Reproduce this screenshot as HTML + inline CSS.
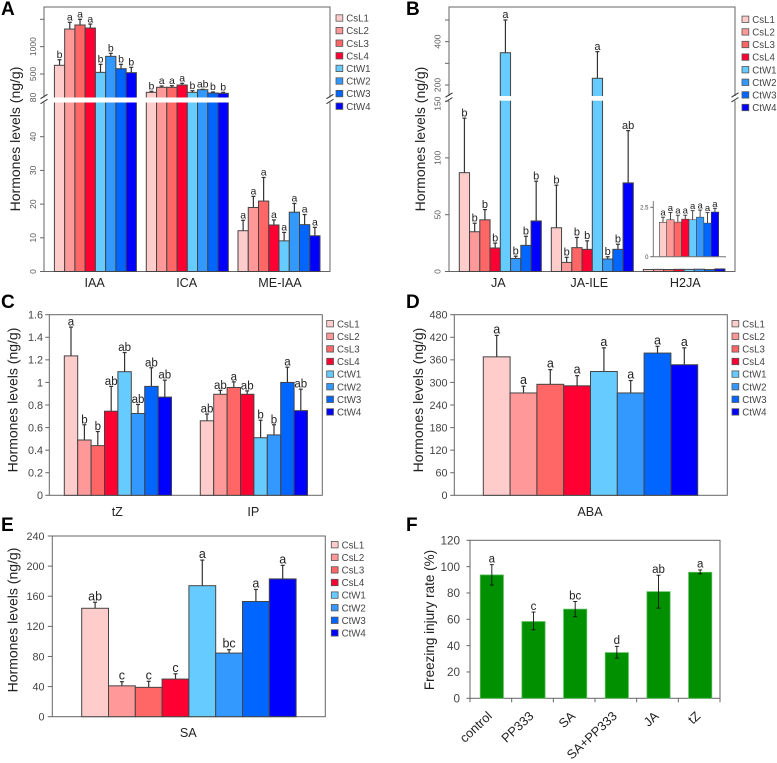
<!DOCTYPE html>
<html lang="en">
<head>
<meta charset="utf-8">
<title>Hormone levels chart</title>
<style>
html,body{margin:0;padding:0;background:#fff;width:777px;height:763px;overflow:hidden}
svg{display:block;font-family:"Liberation Sans",sans-serif;filter:blur(0.3px)}
</style>
</head>
<body>
<svg id="figure" width="777" height="763" viewBox="0 0 777 763" xmlns="http://www.w3.org/2000/svg"></svg>
<script>
const seriesNames = ['CsL1','CsL2','CsL3','CsL4','CtW1','CtW2','CtW3','CtW4'];
const seriesColors = ['#FFCCCC','#FF9999','#FF6666','#FF0033','#66CCFF','#3399FF','#0066FF','#0000FF'];

const iaaValues = [659,1322,1396,1340,530,823,597,524];
const iaaUpper = [761,1445,1500,1413,677,878,677,622];
const iaaLetters = ['b','a','a','a','b','b','b','b'];
const icaValues = [165,257,257,299,165,213,153,147];
const icaUpper = [184,281,286,330,195,220,171,165];
const icaLetters = ['b','a','a','a','b','ab','b','b'];
const meIaaValues = [12.1,19,20.9,13.8,9.1,17.6,13.9,10.6];
const meIaaUpper = [15.2,22.3,27.9,15.3,11.6,20.2,16.9,13.1];
const meIaaLetters = ['a','a','a','a','a','a','a','a'];

const jaValues = [87,35,45.5,20.7,349,11.5,23,44.5];
const jaUpper = [135,42.5,54.5,25,500,13.5,31,79.5];
const jaLetters = ['b','b','b','b','a','b','b','b'];
const jaIleValues = [38.5,8,21,19.5,231,11,19.5,78];
const jaIleUpper = [76,12.5,30,27,354,13,24,124];
const jaIleLetters = ['b','b','b','b','a','b','b','ab'];
const h2jaValues = [1.74,1.87,1.75,1.9,1.87,2.0,1.7,2.26];
const h2jaUpper = [2.0,2.24,2.1,2.1,2.33,2.36,2.23,2.45];
const h2jaLetters = ['a','a','a','a','a','a','a','a'];

const tzValues = [1.235,0.49,0.44,0.745,1.095,0.725,0.965,0.87];
const tzUpper = [1.49,0.625,0.565,0.965,1.265,0.805,1.13,1.02];
const tzLetters = ['a','b','b','ab','ab','ab','ab','ab'];
const ipValues = [0.66,0.895,0.955,0.895,0.51,0.535,1.0,0.75];
const ipUpper = [0.72,0.93,1.005,0.925,0.665,0.625,1.135,0.94];
const ipLetters = ['ab','ab','a','ab','b','b','a','ab'];

const abaValues = [368,272,295,291,329,272,378,347];
const abaUpper = [425,290,334,318,392,305,396,392];
const abaLetters = ['a','a','a','a','a','a','a','a'];

const saValues = [144,41,39,50,174,84.5,153,183];
const saUpper = [152,46.5,47,57,208,89,169,201];
const saLetters = ['ab','c','c','c','a','bc','a','a'];

const freezeCategories = ['control','PP333','SA','SA+PP333','JA','tZ'];
const freezeValues = [93.7,58.3,67.7,34.7,81,95.7];
const freezeHigh = [101.5,65.5,73.5,39.5,93.5,97.5];
const freezeLow = [86,52,62,30.5,68.5,94.5];
const freezeLetters = ['a','c','bc','d','ab','a'];

const aLowerTicks = [0,10,20,30,40];
const aUpperTicks = [500,1000,1500];
const aUpperTickLabels = ['500','1000',''];
const bLowerTicks = [0,50,100,150];
const bUpperTicks = [200,300,400,500];
const bUpperTickLabels = ['200','','400',''];
const insetTicks = [0,2.5];
const cTicks = [0,0.2,0.4,0.6,0.8,1,1.2,1.4,1.6];
const dTicks = [0,60,120,180,240,300,360,420,480];
const eTicks = [0,40,80,120,160,200,240];
const fTicks = [0,20,40,60,80,100,120];

const svg = document.getElementById('figure');
const NS = 'http://www.w3.org/2000/svg';
function mk(tag, attrs, parent){
  const n = document.createElementNS(NS, tag);
  for(const k in attrs){ n.setAttribute(k, attrs[k]); }
  (parent || svg).appendChild(n);
  return n;
}
function label(parent, x, y, str, size, fill, anchor, rot){
  const attrs = {x:x, y:y, 'font-size':size, fill:fill, 'text-anchor':anchor || 'middle'};
  if(rot){ attrs.transform = 'rotate(' + rot + ' ' + x + ' ' + y + ')'; }
  const t = mk('text', attrs, parent);
  t.textContent = str;
  return t;
}
function panelGroup(){
  const g = mk('g', {});
  
  
  return g;
}
function drawLetter(str, x, y){
  const t = label(svg, x, y, str, 19, '#000', 'start');
  t.setAttribute('font-weight', 'bold');
  
  
}
function drawYTitle(g, str, x, y, size){
  const t = label(g, x, y, str, size, '#222', 'middle', -90);
  
  
}
function drawXLabel(g, str, x, y){
  const t = label(g, x, y, str, 12.6, '#222');
  
  
}
function drawFrame(g, l, t, r, b){
  const f = mk('rect', {x:l, y:t, width:r-l, height:b-t, fill:'none', stroke:'#666', 'stroke-width':1}, g);
  
  
}
function drawLegend(g, xSwatch, yFirst){
  seriesNames.forEach(function(name, i){
    const cy = yFirst + i * 12.6;
    const sw = mk('rect', {x:xSwatch, y:cy-3.2, width:6.8, height:6.4, fill:seriesColors[i], stroke:'#555', 'stroke-width':0.8}, g);
    
    
    const tx = label(g, xSwatch + 10.3, cy + 3.6, name, 9.7, '#444', 'start');
    
    
  });
}
function drawTick(g, xRight, len, y, text, opts){
  const ln = mk('line', {x1:xRight-len, x2:xRight, y1:y, y2:y, stroke:'#666', 'stroke-width':1}, g);
  
  
  if(text === ''){ return; }
  let t;
  if(opts.rotated){
    t = label(g, opts.x, y + (opts.dy || 0), text, opts.size, '#555', 'middle', -90);
  } else {
    t = label(g, opts.x, y + opts.size * 0.36, text, opts.size, '#444', 'end');
  }
  
  
}
function drawBars(g, x0, w, base, yScale, values, upper, letters, o){
  const opt = o || {};
  values.forEach(function(v, i){
    const x = x0 + i * w;
    const yTop = yScale(v);
    const cx = x + w / 2;
    const yErr = yScale(upper[i]);
    const err = mk('line', {x1:cx, x2:cx, y1:yTop, y2:yErr, stroke:'#333', 'stroke-width':opt.errW || 1.2}, g);
    
    
    const cap = mk('line', {x1:cx-2, x2:cx+2, y1:yErr, y2:yErr, stroke:'#333', 'stroke-width':opt.errW || 1.2}, g);
    
    
    const bar = mk('rect', {x:x, y:yTop, width:w, height:base-yTop, fill:seriesColors[i], stroke:opt.stroke || '#444', 'stroke-width':opt.barStroke || 1}, g);
    
    
    const sig = label(g, cx, yErr - (opt.gap === undefined ? 1.8 : opt.gap), letters[i], opt.size || 11, '#222');
    
    
  });
}
function drawBreak(g, left, right, top, bottom, xs, markShift){
  const band = mk('rect', {x:left, y:top, width:right-left, height:bottom-top, fill:'#fff'}, g);
  
  
  xs.forEach(function(x){
    [top, bottom].forEach(function(y){
      const s = mk('line', {x1:x-3.5, x2:x+3.5, y1:y+2.2+markShift, y2:y-2.2+markShift, stroke:'#333', 'stroke-width':1}, g);
      
      
    });
  });
}

/* Panel A */
(function(){
  const g = panelGroup();
  const base = 271.5;
  const yA = function(v){ return v <= 50 ? base - v * 3.37 : 74 - (v - 500) * 0.0547; };
  drawFrame(g, 44, 7, 330, base);
  drawBars(g, 54.4, 10.25, base, yA, iaaValues, iaaUpper, iaaLetters, {size:10.5});
  drawBars(g, 146.3, 10.25, base, yA, icaValues, icaUpper, icaLetters, {size:10.5});
  drawBars(g, 238, 10.25, base, yA, meIaaValues, meIaaUpper, meIaaLetters, {size:10.5});
  drawBreak(g, 42, 332, 97.5, 102.5, [44, 330], -1);
  aLowerTicks.forEach(function(v){ drawTick(g, 44, 4, yA(v), String(v), {rotated:true, x:36, size:8.5}); });
  aUpperTicks.forEach(function(v, i){ drawTick(g, 44, 4, yA(v), aUpperTickLabels[i], {rotated:true, x:36, size:8.5}); });
  const l80 = label(g, 36, 97.5, '80', 8.5, '#555', 'middle', -90);
  
  
  drawYTitle(g, 'Hormones levels (ng/g)', 20, 139, 14);
  drawXLabel(g, 'IAA', 94.7, 287);
  drawXLabel(g, 'ICA', 186.7, 287);
  drawXLabel(g, 'ME-IAA', 280, 287);
  drawLegend(g, 336, 18);
})();

/* Panel B */
(function(){
  const g = panelGroup();
  const base = 271.5;
  const yB = function(v){ return v <= 150 ? base - v * 1.136 : 85 - (v - 200) * 0.2167; };
  drawFrame(g, 449, 7, 735, base);
  drawBars(g, 459.3, 10.25, base, yB, jaValues, jaUpper, jaLetters);
  drawBars(g, 551.3, 10.25, base, yB, jaIleValues, jaIleUpper, jaIleLetters);
  drawBars(g, 643.3, 10.2, base, yB, h2jaValues, h2jaValues, h2jaLetters.map(function(){ return ''; }), {errW:0.01});
  drawBreak(g, 447, 737, 96, 100.7, [449, 735], -1);
  bLowerTicks.forEach(function(v){ drawTick(g, 449, 4, yB(v), String(v), {rotated:true, x:440.5, size:8.5, dy:v === 150 ? 2.5 : 0}); });
  bUpperTicks.forEach(function(v, i){ drawTick(g, 449, 4, yB(v), bUpperTickLabels[i], {rotated:true, x:440.5, size:8.5}); });
  drawYTitle(g, 'Hormones levels (ng/g)', 425, 139, 14);
  drawXLabel(g, 'JA', 498.3, 287);
  drawXLabel(g, 'JA-ILE', 589.3, 287);
  drawXLabel(g, 'H2JA', 685.3, 287);
  drawLegend(g, 742, 19.3);

  const inset = mk('g', {}, g);
  
  
  const iBase = 256.7;
  const yI = function(v){ return iBase - v * 19.76; };
  drawBars(inset, 659.3, 7.42, iBase, yI, h2jaValues, h2jaUpper, h2jaLetters, {errW:0.9, barStroke:0.6, gap:1.5, size:9.5});
  const ia = mk('line', {x1:653.3, x2:653.3, y1:201, y2:iBase, stroke:'#777', 'stroke-width':1}, inset);
  
  
  const ib = mk('line', {x1:653.3, x2:726, y1:iBase, y2:iBase, stroke:'#777', 'stroke-width':1}, inset);
  
  
  insetTicks.forEach(function(v){ drawTick(inset, 653.3, 3, yI(v), String(v), {x:648.5, size:6}); });
})();

/* Panel C */
(function(){
  const g = panelGroup();
  const base = 495.3;
  const yC = function(v){ return base - v / 1.6 * 180.6; };
  drawFrame(g, 49.3, 314.7, 322.3, base);
  drawBars(g, 64.3, 13.4, base, yC, tzValues, tzUpper, tzLetters, {size:11.5, gap:1.5});
  drawBars(g, 200.3, 13.4, base, yC, ipValues, ipUpper, ipLetters, {size:11.5, gap:1.5});
  cTicks.forEach(function(v){ drawTick(g, 49.3, 4, yC(v), String(v), {x:43, size:10.8}); });
  drawYTitle(g, 'Hormones levels (ng/g)', 17.5, 400, 14);
  drawXLabel(g, 'tZ', 117.3, 516);
  drawXLabel(g, 'IP', 253.3, 516);
  drawLegend(g, 326.7, 323.7);
})();

/* Panel D */
(function(){
  const g = panelGroup();
  const base = 495.3;
  const yD = function(v){ return base - v / 480 * 180.6; };
  drawFrame(g, 454.3, 314.7, 727.3, base);
  drawBars(g, 483.3, 26.8, base, yD, abaValues, abaUpper, abaLetters, {size:12.5, gap:2});
  dTicks.forEach(function(v){ drawTick(g, 454.3, 4, yD(v), String(v), {x:447.5, size:10.8}); });
  drawYTitle(g, 'Hormones levels (ng/g)', 423, 400, 14);
  drawXLabel(g, 'ABA', 590, 516);
  drawLegend(g, 732, 323.7);
})();

/* Panel E */
(function(){
  const g = panelGroup();
  const base = 716.7;
  const yE = function(v){ return base - v / 240 * 180.7; };
  drawFrame(g, 52.3, 536, 325.3, base);
  drawBars(g, 81.7, 26.8, base, yE, saValues, saUpper, saLetters, {size:12.5, gap:2});
  eTicks.forEach(function(v){ drawTick(g, 52.3, 4.5, yE(v), String(v), {x:44.5, size:10.8}); });
  drawYTitle(g, 'Hormones levels (ng/g)', 17.5, 620, 14);
  drawXLabel(g, 'SA', 188.3, 737);
  drawLegend(g, 331.3, 544.7);
})();

/* Panel F */
(function(){
  const g = panelGroup();
  const base = 698.3;
  const left = 470;
  const step = 41.67;
  const yF = function(v){ return base - v / 120 * 158; };
  const xF = function(i){ return left + step * (i + 0.5) + 1; };
  drawFrame(g, left, 540.3, 720, base);
  freezeValues.forEach(function(v, i){
    const cx = xF(i);
    const bar = mk('rect', {x:cx-11.6, y:yF(v), width:23.2, height:base-yF(v), fill:'#009000', stroke:'#5DBB5D', 'stroke-width':0.8}, g);
    
    
    const e = mk('line', {x1:cx, x2:cx, y1:yF(freezeHigh[i]), y2:yF(freezeLow[i]), stroke:'#111', 'stroke-width':0.9}, g);
    
    
    const c1 = mk('line', {x1:cx-2, x2:cx+2, y1:yF(freezeHigh[i]), y2:yF(freezeHigh[i]), stroke:'#111', 'stroke-width':0.9}, g);
    
    
    const c2 = mk('line', {x1:cx-2, x2:cx+2, y1:yF(freezeLow[i]), y2:yF(freezeLow[i]), stroke:'#111', 'stroke-width':0.9}, g);
    
    
    const s = label(g, cx, yF(freezeHigh[i]) - 2.2, freezeLetters[i], 11.5, '#222');
    
    
    const c = label(g, cx + 1, 717, freezeCategories[i], 12.8, '#222', 'end', -43);
    
    
  });
  for(let i = 0; i <= freezeCategories.length; i++){
    const tx = left + step * i;
    const t = mk('line', {x1:tx, x2:tx, y1:base, y2:base+4, stroke:'#666', 'stroke-width':1}, g);
    
    
  }
  fTicks.forEach(function(v){ drawTick(g, left, 3.5, yF(v), String(v), {x:460, size:11.7}); });
  drawYTitle(g, 'Freezing injury rate (%)', 434, 620, 13.5);
})();

drawLetter('A', 1, 15);
drawLetter('B', 406, 15);
drawLetter('C', 1, 308);
drawLetter('D', 406, 308);
drawLetter('E', 1, 531);
drawLetter('F', 406, 531);
</script>
</body>
</html>
